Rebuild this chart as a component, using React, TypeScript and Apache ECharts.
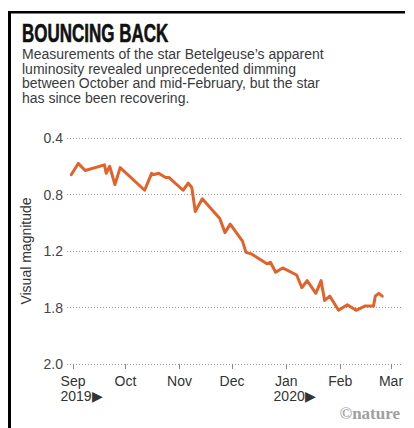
import React, { useEffect, useRef } from "react";
import * as echarts from "echarts";

// ---- data ----
const dates = [
  "2019-08-31", "2019-09-04", "2019-09-08", "2019-09-19", "2019-09-20", "2019-09-22",
  "2019-09-25", "2019-09-28", "2019-10-12", "2019-10-16", "2019-10-17", "2019-10-20",
  "2019-10-24", "2019-10-26", "2019-11-03", "2019-11-06", "2019-11-08", "2019-11-10",
  "2019-11-14", "2019-11-24", "2019-11-27", "2019-11-30", "2019-12-07", "2019-12-09",
  "2019-12-12", "2019-12-21", "2019-12-23", "2019-12-26", "2019-12-30", "2020-01-07",
  "2020-01-10", "2020-01-13", "2020-01-18", "2020-01-21", "2020-01-23", "2020-01-26",
  "2020-01-31", "2020-02-05", "2020-02-10", "2020-02-15", "2020-02-20", "2020-02-21",
  "2020-02-23", "2020-02-25",
];
const magnitudes = [
  0.66, 0.58, 0.63, 0.59, 0.65, 0.6,
  0.73, 0.61, 0.77, 0.65, 0.66, 0.65,
  0.68, 0.68, 0.77, 0.72, 0.75, 0.92,
  0.83, 0.97, 1.07, 1.01, 1.13, 1.21,
  1.22, 1.29, 1.28, 1.35, 1.32, 1.37,
  1.46, 1.41, 1.5, 1.41, 1.55, 1.52,
  1.62, 1.58, 1.62, 1.59, 1.59, 1.52,
  1.5, 1.52,
];
const monthTicks = [
  "2019-09-01", "2019-10-01", "2019-11-01", "2019-12-01",
  "2020-01-01", "2020-02-01", "2020-03-01",
];
const monthLabels = ["Sep", "Oct", "Nov", "Dec", "Jan", "Feb", "Mar"];
const yearLabels = ["2019▶", "", "", "", "2020▶", "", ""];
const yTickLabels = ["0.4", "0.8", "1.2", "1.8", "2.0"];
const titleText = "BOUNCING BACK";
const subtitleLines = [
  "Measurements of the star Betelgeuse’s apparent",
  "luminosity revealed unprecedented dimming",
  "between October and mid-February, but the star",
  "has since been recovering.",
];
const yAxisName = "Visual magnitude";
const creditText = "©nature";

const DAY = 86400000;
const FONT = "'Liberation Sans', Arial, sans-serif";

function utc(s: string): number {
  const [y, m, d] = s.split("-").map(Number);
  return Date.UTC(y, m - 1, d);
}
// days elapsed since the first month tick
function dayIndex(s: string): number {
  return Math.round((utc(s) - utc(monthTicks[0])) / DAY);
}

export default function App() {
  const ref = useRef<HTMLDivElement>(null);

  useEffect(() => {
    document.body.style.margin = "0";
    const chart = echarts.init(ref.current!, null, { renderer: "svg" });
    const tickValues = monthTicks.map(dayIndex);
    const seriesData = dates.map((d, i) => [dayIndex(d), magnitudes[i]]);

    const nearestTick = (v: number) => {
      let best = 0;
      for (let i = 1; i < tickValues.length; i++) {
        if (Math.abs(tickValues[i] - v) < Math.abs(tickValues[best] - v)) best = i;
      }
      return best;
    };

    const option: any = {
      animation: false,
      backgroundColor: "#ffffff",
      textStyle: { fontFamily: FONT },
      grid: { left: 67, right: 11, top: 138, bottom: 64, containLabel: false, outerBoundsMode: "none" },
      xAxis: {
        type: "value",
        min: tickValues[0] - 3.43,
        max: tickValues[tickValues.length - 1] + 6.87,
        axisLine: { show: false },
        splitLine: { show: false },
        axisTick: {
          show: true,
          customValues: tickValues,
          length: 5,
          lineStyle: { color: "#888888", width: 1 },
        },
        axisLabel: {
          customValues: tickValues,
          margin: 9,
          hideOverlap: false,
          showMinLabel: true,
          showMaxLabel: true,
          formatter: (v: number) => {
            const i = nearestTick(v);
            return yearLabels[i]
              ? `{m|${monthLabels[i]}}\n{y|${yearLabels[i]}}`
              : `{m|${monthLabels[i]}}`;
          },
          rich: {
            m: { fontSize: 14, color: "#333333", lineHeight: 15, fontFamily: FONT },
            y: { fontSize: 14, color: "#333333", lineHeight: 15, fontFamily: FONT, padding: [0, 0, 0, 17] },
          },
        },
      },
      yAxis: {
        type: "value",
        inverse: true,
        min: 0.4,
        max: 2.0,
        interval: 0.4,
        axisLine: { show: false },
        axisTick: { show: false },
        splitLine: { show: true, lineStyle: { type: [1, 2], color: "#9a9a9a", width: 1 } },
        axisLabel: {
          margin: 4,
          fontSize: 14,
          color: "#444444",
          fontFamily: FONT,
          formatter: (v: number) => yTickLabels[Math.round((v - 0.4) / 0.4)] ?? "",
        },
        name: yAxisName,
        nameLocation: "middle",
        nameGap: 33,
        nameTextStyle: { fontSize: 14, color: "#333333", fontFamily: FONT },
      },
      series: [
        {
          type: "line",
          data: seriesData,
          showSymbol: false,
          symbol: "none",
          clip: false,
          lineStyle: { color: "#e2622b", width: 3, join: "round", cap: "round" },
        },
      ],
      graphic: [
        { type: "rect", shape: { x: 8, y: 11, width: 3, height: 417 }, style: { fill: "#000000" } },
        { type: "rect", shape: { x: 8, y: 11, width: 397, height: 2.6 }, style: { fill: "#000000" } },
        {
          type: "text",
          x: 22,
          y: 34,
          scaleX: 0.68,
          style: {
            text: titleText,
            fontSize: 25,
            fontWeight: "bold",
            fontFamily: FONT,
            fill: "#111111",
            stroke: "#111111",
            lineWidth: 0.6,
            verticalAlign: "middle",
          },
        },
        {
          type: "text",
          x: 22,
          y: 47,
          style: {
            text: subtitleLines.join("\n"),
            fontSize: 14,
            lineHeight: 14.5,
            fontFamily: FONT,
            fill: "#3a3a3a",
            verticalAlign: "top",
          },
        },
        {
          type: "text",
          x: 400,
          y: 413,
          style: {
            text: creditText,
            fontSize: 17,
            fontWeight: "bold",
            fontFamily: "'Liberation Serif', serif",
            fill: "#a0a0a0",
            align: "right",
            verticalAlign: "middle",
          },
        },
      ],
    };

    chart.setOption(option);
    return () => chart.dispose();
  }, []);

  return (
    <div
      ref={ref}
      style={{ position: "absolute", left: 0, top: 0, width: 414, height: 428, background: "#ffffff" }}
    />
  );
}
